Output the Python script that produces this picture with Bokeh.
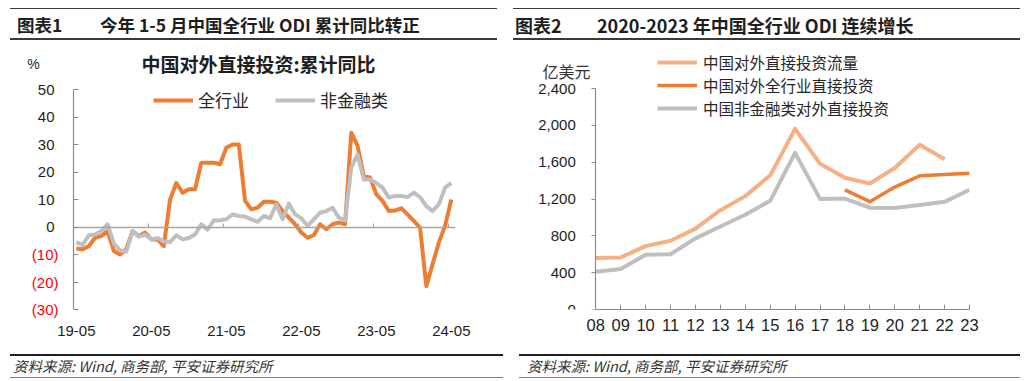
import numpy as np
import pandas as pd
from bokeh.plotting import figure
from bokeh.models import (Range1d, FixedTicker, Label, Legend, LegendItem,
                          NumeralTickFormatter, LinearAxis, Div)
from bokeh.layouts import row, column
from bokeh.embed import file_html
from bokeh.resources import INLINE

CJK = "Noto Sans CJK SC"
LAT = "Liberation Sans"

# ---------------- data: chart 1 (cumulative YoY, %) ----------------
months = pd.date_range("2019-05-01", "2024-05-01", freq="MS").strftime("%y-%m").tolist()
total_yoy = [-7.8, -8.1, -7.0, -3.9, -3.3, -1.5, -8.7, -10.0, -8.0, -1.5,
             -3.3, -2.0, -4.5, -4.5, -7.0, 10.0, 16.0, 12.5, 13.7, 13.7,
             23.4, 23.4, 23.4, 22.8, 28.8, 30.0, 30.0, 9.5, 6.4, 7.0,
             9.2, 9.2, 8.8, 5.8, 3.4, 1.0, -2.0, -3.9, -3.0, 1.0,
             -0.8, 1.0, 1.6, 1.0, 34.3, 29.5, 18.5, 18.0, 11.9, 9.5,
             5.8, 6.0, 6.8, 4.6, 2.2, -0.2, -21.5, -13.6, -5.7, 0.4,
             10.0]
nonfin_yoy = [-5.5, -6.5, -3.0, -2.7, -1.5, 1.0, -6.0, -8.5, -9.0, -1.5,
              -3.5, -2.8, -4.5, -4.0, -5.3, -5.5, -3.0, -4.5, -4.0, -2.7,
              1.0, -1.0, 2.4, 2.4, 2.8, 4.6, 4.0, 3.8, 2.8, 1.9,
              4.0, 3.2, 8.2, 2.8, 8.5, 4.6, 3.2, 0.4, 2.8, 5.2,
              5.8, 7.0, 3.4, 2.4, 21.6, 26.4, 17.3, 17.3, 16.0, 14.3,
              10.7, 11.3, 11.3, 10.9, 12.5, 10.9, 7.6, 5.8, 8.2, 14.3,
              16.0]
month_ticks = ["19-05", "20-05", "21-05", "22-05", "23-05", "24-05"]
yoy_ticks = [-30, -20, -10, 0, 10, 20, 30, 40, 50]

# ---------------- data: chart 2 (USD 100m) ----------------
years = list(range(2008, 2024))
year_labels = ["08", "09", "10", "11", "12", "13", "14", "15", "16", "17",
               "18", "19", "20", "21", "22", "23"]
odi_flow = [559.1, 565.3, 688.1, 746.5, 878.0, 1078.4, 1231.2, 1456.7, 1961.5,
            1582.9, 1430.4, 1369.1, 1537.1, 1788.2, 1631.2, np.nan]
odi_total = [np.nan] * 10 + [1298.3, 1171.2, 1329.4, 1451.9, 1465.0, 1478.5]
odi_nonfin = [410.0, 440.0, 595.0, 600.0, 772.0, 902.0, 1029.0, 1180.0, 1701.0,
              1201.0, 1205.0, 1106.0, 1102.0, 1136.0, 1169.0, 1301.0]
usd_ticks = [0, 400, 800, 1200, 1600, 2000, 2400]
legend2_labels = ["中国对外直接投资流量", "中国对外全行业直接投资", "中国非金融类对外直接投资"]

ORANGE = "#EE7D31"
LIGHT_ORANGE = "#F5B183"
GRAY = "#BFBFBF"
AXIS = "#8C8C8C"
ZERO = "#A6A6A6"
TXT = "#1E1E1E"

W = 512
SOURCE = "资料来源: Wind, 商务部, 平安证券研究所"


def header_div(label, title, lx0, lx1, tx, ttx, fs):
    html = (
        f"<div style=\"position:relative;width:{W}px;height:42px;"
        f"font-family:'{CJK}',sans-serif;color:{TXT};\">"
        f"<div style=\"position:absolute;left:{lx0}px;top:8px;width:{lx1 - lx0}px;height:0;"
        f"border-top:1.5px solid #3A3A3A;\"></div>"
        f"<div style=\"position:absolute;left:{tx}px;top:14px;font-size:{fs}px;font-weight:bold;"
        f"line-height:22px;white-space:nowrap;\">{label}</div>"
        f"<div style=\"position:absolute;left:{ttx}px;top:14px;font-size:{fs}px;font-weight:bold;"
        f"line-height:22px;white-space:nowrap;\">{title}</div>"
        f"<div style=\"position:absolute;left:{lx0}px;top:38px;width:{lx1 - lx0}px;height:0;"
        f"border-top:2px solid #3A3A3A;\"></div>"
        f"</div>"
    )
    return Div(text=html, width=W, height=42, margin=0)


def footer_div(lx0, lx1, tx):
    html = (
        f"<div style=\"position:relative;width:{W}px;height:31px;"
        f"font-family:'{CJK}',sans-serif;color:#333333;\">"
        f"<div style=\"position:absolute;left:{lx0}px;top:4px;width:{lx1 - lx0}px;height:0;"
        f"border-top:2.5px solid #202020;\"></div>"
        f"<div style=\"position:absolute;left:{tx}px;top:7px;font-size:14.5px;font-style:italic;"
        f"line-height:18px;white-space:nowrap;\">{SOURCE}</div>"
        f"<div style=\"position:absolute;left:{lx0}px;top:27px;width:{lx1 - lx0}px;height:0;"
        f"border-top:1.5px solid #808080;\"></div>"
        f"</div>"
    )
    return Div(text=html, width=W, height=31, margin=0)


def style_axis(ax, size="15px", font=LAT, color=TXT):
    ax.major_label_text_font = font
    ax.major_label_text_font_size = size
    ax.major_label_text_color = color
    ax.minor_tick_line_color = None


# ---------------- chart 1 ----------------
x1 = list(range(len(months)))
X0, X1 = -0.45, 60.67          # y-axis position / right end of the data area
XL = -8.93                     # left edge of the drawing area (room for tick labels)
PX_PER_UNIT = 2.75
Y_BOT1 = -30 - 10 / PX_PER_UNIT
Y_TOP1 = Y_BOT1 + 271 / PX_PER_UNIT
c1 = figure(width=W, height=308, x_range=Range1d(XL, X1), y_range=Range1d(Y_BOT1, Y_TOP1),
            y_axis_location=None,
            min_border_left=20, min_border_right=57, min_border_top=6, min_border_bottom=31,
            output_backend="svg", toolbar_location=None)
c1.grid.visible = False
c1.outline_line_color = None
c1.background_fill_color = "white"
c1.border_fill_color = "white"

tick_idx = [months.index(t) for t in month_ticks]
band_edges = [i - 0.5 for i in tick_idx[1:]]

# zero line with small upward ticks at the year boundaries
zero_ax = LinearAxis(fixed_location=0, ticker=FixedTicker(ticks=band_edges), bounds=(X0, X1),
                     major_label_overrides={b: "" for b in band_edges},
                     axis_line_color=ZERO, axis_line_width=1.5,
                     major_tick_line_color=ZERO, major_tick_line_width=1.2,
                     major_tick_in=4, major_tick_out=0, minor_tick_line_color=None,
                     major_label_text_font_size="1px")
c1.add_layout(zero_ax, "below")

r_tot = c1.line(x1, total_yoy, line_color=ORANGE, line_width=4, line_join="round")
r_non = c1.line(x1, nonfin_yoy, line_color=GRAY, line_width=4, line_join="round")

ya = LinearAxis(fixed_location=X0, ticker=FixedTicker(ticks=yoy_ticks), bounds=(-30, 50),
                major_label_overrides={v: ("" if v < 0 else str(v)) for v in yoy_ticks},
                axis_line_color=AXIS, axis_line_width=1.2, major_tick_line_color=AXIS,
                major_tick_in=5, major_tick_out=0, major_label_standoff=19)
style_axis(ya)
c1.add_layout(ya, "left")

neg_ticks = [v for v in yoy_ticks if v < 0]
ya_neg = LinearAxis(fixed_location=X0, ticker=FixedTicker(ticks=neg_ticks),
                    major_label_overrides={v: "(%d)" % (-v) for v in neg_ticks},
                    axis_line_color=None, major_tick_line_color=None,
                    major_tick_in=0, major_tick_out=0, major_label_standoff=15)
style_axis(ya_neg, color="#FF0000")
c1.add_layout(ya_neg, "left")

xa = c1.xaxis[0]
xa.ticker = FixedTicker(ticks=tick_idx)
xa.major_label_overrides = {i: t for i, t in zip(tick_idx, month_ticks)}
xa.axis_line_color = None
xa.major_tick_line_color = None
xa.major_label_standoff = 0
style_axis(xa)

UNIT1 = 59.45
c1.add_layout(Label(x=-6.85, y=UNIT1, text="%", text_align="center", text_baseline="middle",
                    text_font=LAT, text_font_size="14px", text_color=TXT))
c1.add_layout(Label(x=29.15, y=UNIT1, text="中国对外直接投资:累计同比",
                    text_align="center", text_baseline="middle", text_font=CJK,
                    text_font_style="bold", text_font_size="19px", text_color=TXT))

leg1 = Legend(items=[LegendItem(label="全行业", renderers=[r_tot]),
                     LegendItem(label="非金融类", renderers=[r_non])],
              orientation="horizontal", location=(133, 207), glyph_width=40,
              glyph_height=20, label_standoff=5, spacing=26, padding=0, margin=0,
              background_fill_alpha=0, border_line_color=None,
              label_text_font=CJK, label_text_font_size="17px", label_text_color="#262626")
c1.add_layout(leg1)

# ---------------- chart 2 ----------------
XL2 = 2005.379
Y_TOP2 = 2834.4
c2 = figure(width=W, height=308, x_range=Range1d(XL2, 2023), y_range=Range1d(0, Y_TOP2),
            y_axis_location=None,
            min_border_left=18, min_border_right=55, min_border_top=6, min_border_bottom=41,
            output_backend="svg", toolbar_location=None)
c2.grid.visible = False
c2.outline_line_color = None
c2.background_fill_color = "white"
c2.border_fill_color = "white"

r_flow = c2.line(years, odi_flow, line_color=LIGHT_ORANGE, line_width=4, line_join="round")
r_all = c2.line(years, odi_total, line_color=ORANGE, line_width=3.5, line_join="round")
r_nf = c2.line(years, odi_nonfin, line_color=GRAY, line_width=4, line_join="round")

ya2 = LinearAxis(fixed_location=years[0], ticker=FixedTicker(ticks=usd_ticks), bounds=(0, 2400),
                 formatter=NumeralTickFormatter(format="0,0"),
                 axis_line_color=AXIS, axis_line_width=1.2, major_tick_line_color=AXIS,
                 major_tick_in=0, major_tick_out=4, major_label_standoff=16)
style_axis(ya2)
c2.add_layout(ya2, "left")

xa2 = c2.xaxis[0]
xa2.ticker = FixedTicker(ticks=years)
xa2.bounds = (years[0], years[-1])
xa2.major_label_overrides = {y: l for y, l in zip(years, year_labels)}
xa2.axis_line_color = AXIS
xa2.axis_line_width = 1.2
xa2.major_tick_line_color = AXIS
xa2.major_tick_in = 5
xa2.major_tick_out = 0
xa2.major_label_standoff = 9
style_axis(xa2, size="16.5px")

c2.add_layout(Label(x=2006.82, y=2585, text="亿美元", text_align="center",
                    text_baseline="middle", text_font=CJK, text_font_size="16px",
                    text_color="#333333"))

# one legend box per row so the rows sit at the reference's spacing
for rend, lab, ypos in zip([r_flow, r_all, r_nf], legend2_labels, [236, 213, 190]):
    c2.add_layout(Legend(items=[LegendItem(label=lab, renderers=[rend])],
                         location=(127, ypos), glyph_width=40, glyph_height=20,
                         label_standoff=6, padding=0, margin=0,
                         background_fill_alpha=0, border_line_color=None,
                         label_text_font=CJK, label_text_font_size="15.5px",
                         label_text_color="#262626"))

# ---------------- layout ----------------
h1 = header_div("图表1", "今年 1-5 月中国全行业 ODI 累计同比转正", 10, 497, 17, 100, 17.5)
h2 = header_div("图表2", "2020-2023 年中国全行业 ODI 连续增长", 1, 508, 3, 85, 18)
f1 = footer_div(10, 503, 13)
f2 = footer_div(7, 508, 15)

layout = row(column(h1, c1, f1, spacing=0), column(h2, c2, f2, spacing=0), spacing=0)

open("out.html", "w").write(file_html(layout, INLINE))
